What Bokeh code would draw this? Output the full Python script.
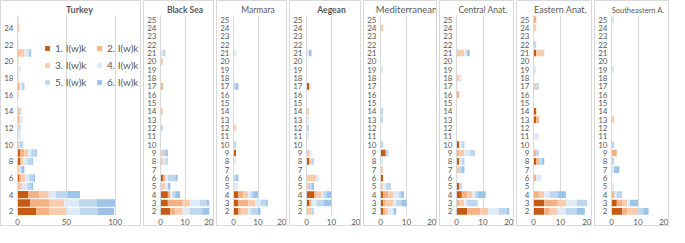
from bokeh.plotting import figure
from bokeh.layouts import row
from bokeh.models import ColumnDataSource, FixedTicker, Range1d, Legend
from bokeh.embed import file_html
from bokeh.resources import INLINE

CATEGORIES = list(range(2, 26))
SERIES = ["1. I(w)k", "2. I(w)k", "3. I(w)k", "4. I(w)k", "5. I(w)k", "6. I(w)k"]
COLORS = ["#C55A11", "#F4B183", "#F8CBAD", "#DEEBF7", "#BDD7EE", "#9DC3E6"]

# values per category: [week1, week2, ..., week6]
TURKEY = {2: [19, 14, 17, 14, 18, 17], 3: [13, 20, 15, 15, 18, 19], 4: [11, 11, 10, 7, 12, 13],
          5: [1, 0, 4, 5, 4, 2], 6: [2, 2, 4, 4, 4, 2], 7: [0, 0, 2, 1, 1, 3], 8: [3, 1, 2, 4, 5, 1],
          9: [3, 4, 4, 3, 5, 1], 10: [1, 0, 0, 1, 4, 0], 11: [0, 0, 0, 3, 0, 0], 12: [0, 0, 1, 0, 2, 0],
          13: [1, 1, 1, 2, 0, 0], 14: [1, 0, 2, 0, 1, 0], 16: [0, 1, 0, 0, 0, 0], 17: [1, 1, 1, 1, 2, 1],
          18: [0, 0, 1, 1, 0, 0], 19: [0, 0, 0, 3, 0, 0], 20: [0, 0, 1, 0, 0, 0], 21: [1, 0, 6, 4, 1, 2],
          22: [0, 0, 0, 0, 1, 0], 24: [0, 0, 2, 0, 0, 0], 25: [0, 0, 1, 1, 0, 0]}
BLACK_SEA = {2: [4, 2, 3, 3, 5, 3], 3: [3, 6, 3, 4, 3, 1], 4: [3, 1, 0, 1, 1, 2], 5: [0, 0, 2, 1, 0, 1],
             6: [1, 1, 0, 1, 3, 1], 8: [0, 0, 1, 1, 1, 0], 9: [0, 0, 1, 0, 1, 1], 12: [0, 0, 0, 0, 1, 0],
             14: [0, 0, 1, 0, 0, 0], 17: [0, 1, 0, 0, 0, 0], 20: [0, 0, 1, 0, 0, 0], 21: [0, 0, 0, 1, 1, 0]}
MARMARA = {2: [2, 1, 3, 1, 3, 1], 3: [2, 4, 3, 2, 2, 1], 4: [2, 2, 2, 1, 1, 2], 5: [0, 0, 0, 2, 0, 0],
           6: [0, 0, 0, 0, 1, 1], 8: [0, 0, 0, 1, 0, 0], 9: [1, 0, 0, 0, 0, 0], 10: [0, 0, 0, 0, 1, 0],
           12: [0, 0, 1, 0, 0, 0], 17: [0, 0, 0, 0, 1, 1], 21: [0, 0, 0, 1, 0, 0]}
AEGEAN = {2: [0, 0, 2, 0, 1, 0], 3: [1, 1, 0, 2, 3, 3], 4: [3, 1, 2, 1, 1, 2], 5: [0, 0, 1, 0, 1, 1],
          6: [0, 0, 4, 1, 0, 0], 8: [1, 0, 1, 0, 1, 0], 9: [0, 0, 1, 1, 0, 0], 11: [0, 0, 0, 1, 0, 0],
          12: [0, 0, 0, 0, 1, 0], 13: [0, 0, 0, 1, 0, 0], 14: [0, 0, 1, 0, 0, 0], 17: [1, 0, 0, 1, 0, 0],
          21: [0, 0, 0, 1, 0, 1]}
MEDITERRANEAN = {2: [1, 1, 1, 2, 0, 1], 3: [1, 1, 3, 1, 2, 2], 4: [1, 2, 2, 2, 1, 1], 5: [0, 0, 1, 1, 2, 0],
                 6: [1, 0, 0, 0, 0, 0], 7: [0, 0, 1, 0, 0, 0], 8: [0, 0, 0, 1, 0, 0], 9: [2, 0, 0, 0, 1, 0],
                 10: [0, 0, 0, 0, 1, 0], 13: [0, 0, 0, 0, 1, 0], 14: [0, 0, 0, 0, 1, 0],
                 19: [0, 0, 0, 1, 0, 0], 24: [0, 0, 1, 0, 0, 0]}
CENTRAL = {2: [4, 5, 3, 4, 3, 1], 3: [0, 1, 2, 1, 4, 0], 4: [2, 2, 2, 1, 1, 3], 5: [1, 0, 0, 0, 1, 0],
           7: [0, 0, 1, 0, 1, 1], 8: [1, 0, 0, 1, 1, 0], 9: [0, 1, 2, 2, 2, 0], 10: [1, 0, 0, 1, 1, 0],
           16: [0, 1, 0, 0, 0, 0], 18: [0, 0, 1, 1, 0, 0], 21: [0, 0, 3, 1, 0, 1]}
EASTERN = {2: [4, 2, 3, 3, 4, 3], 3: [4, 5, 3, 4, 4, 0], 4: [0, 2, 2, 2, 3, 3], 6: [0, 1, 0, 2, 0, 0],
           8: [1, 1, 0, 0, 1, 1], 9: [0, 1, 0, 0, 1, 0], 11: [0, 0, 0, 2, 0, 0], 13: [1, 1, 0, 0, 0, 0],
           14: [1, 0, 0, 0, 0, 0], 17: [0, 0, 1, 0, 1, 0], 19: [0, 0, 0, 1, 0, 0], 21: [1, 0, 3, 0, 0, 0],
           22: [0, 0, 0, 0, 1, 0], 24: [0, 0, 1, 0, 0, 0], 25: [0, 1, 0, 0, 0, 0]}
SOUTHEASTERN = {2: [4, 2, 4, 0, 2, 2], 3: [2, 2, 2, 1, 0, 3], 4: [0, 1, 0, 1, 2, 0], 5: [0, 0, 0, 1, 0, 0],
                7: [0, 0, 0, 1, 0, 2], 8: [0, 0, 0, 0, 1, 0], 9: [0, 2, 0, 0, 0, 0], 10: [0, 0, 0, 0, 1, 0],
                13: [0, 0, 1, 0, 0, 0], 19: [0, 0, 0, 1, 0, 0], 25: [0, 0, 0, 1, 0, 0]}

# (title, data, weight, title size, panel width)
REGIONS = [("Black Sea", BLACK_SEA, "bold", "8.5px", 71), ("Marmara", MARMARA, "normal", "8.5px", 71),
           ("Aegean", AEGEAN, "bold", "8.5px", 72), ("Mediterranean", MEDITERRANEAN, "normal", "9.5px", 74),
           ("Central Anat.", CENTRAL, "normal", "8.5px", 75), ("Eastern Anat.", EASTERN, "normal", "9px", 76),
           ("Southeastern A.", SOUTHEASTERN, "normal", "7.5px", 75)]

FONT = "Lato"
TXT = "#595959"
GRID = "#D9D9D9"
H = 226
KEYS = ["w1", "w2", "w3", "w4", "w5", "w6"]


def make_source(d):
    data = {"cat": CATEGORIES}
    for k, key in enumerate(KEYS):
        data[key] = [d.get(c, [0] * 6)[k] for c in CATEGORIES]
    return ColumnDataSource(data)


def panel(title, d, weight, tsize, width, xmax, xticks, yticks, left, right, bottom,
          legend=False, toff=-4, bar_h=0.8):
    p = figure(width=width, height=H, output_backend="svg", toolbar_location=None,
               x_range=Range1d(0, xmax), y_range=Range1d(1.5, 25.5),
               min_border_left=left, min_border_right=right, min_border_bottom=bottom,
               min_border_top=0, title=title,
               styles={"border": "1px solid #D9D9D9", "box-sizing": "border-box"})
    p.title.align = "center"
    p.title.text_font = FONT
    p.title.text_font_size = tsize
    p.title.text_color = TXT
    p.title.text_font_style = weight
    p.title.standoff = 1
    p.title.offset = toff
    src = make_source(d)
    r = p.hbar_stack(KEYS, y="cat", height=bar_h, color=COLORS, line_color=None, source=src)
    p.outline_line_color = None
    p.background_fill_color = "white"
    p.ygrid.grid_line_color = None
    p.xgrid.grid_line_color = GRID
    p.xaxis.ticker = FixedTicker(ticks=xticks)
    p.yaxis.ticker = FixedTicker(ticks=yticks)
    for ax in (p.xaxis[0], p.yaxis[0]):
        ax.major_tick_line_color = None
        ax.minor_tick_line_color = None
        ax.major_tick_out = 0
        ax.major_tick_in = 0
        ax.minor_tick_out = 0
        ax.major_label_text_font = FONT
        ax.major_label_text_font_size = "8px"
        ax.major_label_text_color = TXT
    p.xaxis.axis_line_color = None
    p.yaxis.axis_line_color = GRID
    p.yaxis.major_label_standoff = 4
    p.xaxis.major_label_standoff = 3
    if legend:
        order = [0, 2, 4, 1, 3, 5]
        items = [(SERIES[i], [r[i]]) for i in order]
        lg = Legend(items=items, location=(27, 127), ncols=2, glyph_width=6, glyph_height=6,
                    label_text_font=FONT, label_text_font_size="10px", label_text_color=TXT,
                    label_height=10, label_width=36, label_standoff=5, spacing=5,
                    padding=0, margin=0, border_line_color=None, background_fill_alpha=0)
        p.add_layout(lg, "center")
    return p


figs = [panel("Turkey", TURKEY, "bold", "9px", 141, 127, [0, 50, 100], list(range(2, 25, 2)), 14, 1, 10,
              legend=True, toff=-1, bar_h=0.88)]
for name, d, w, ts, wd in REGIONS:
    figs.append(panel(name, d, w, ts, wd, 20, [0, 10, 20], CATEGORIES, 16, 6, 0))

layout = row(figs, spacing=2)
open("out.html", "w").write(file_html(layout, INLINE))
